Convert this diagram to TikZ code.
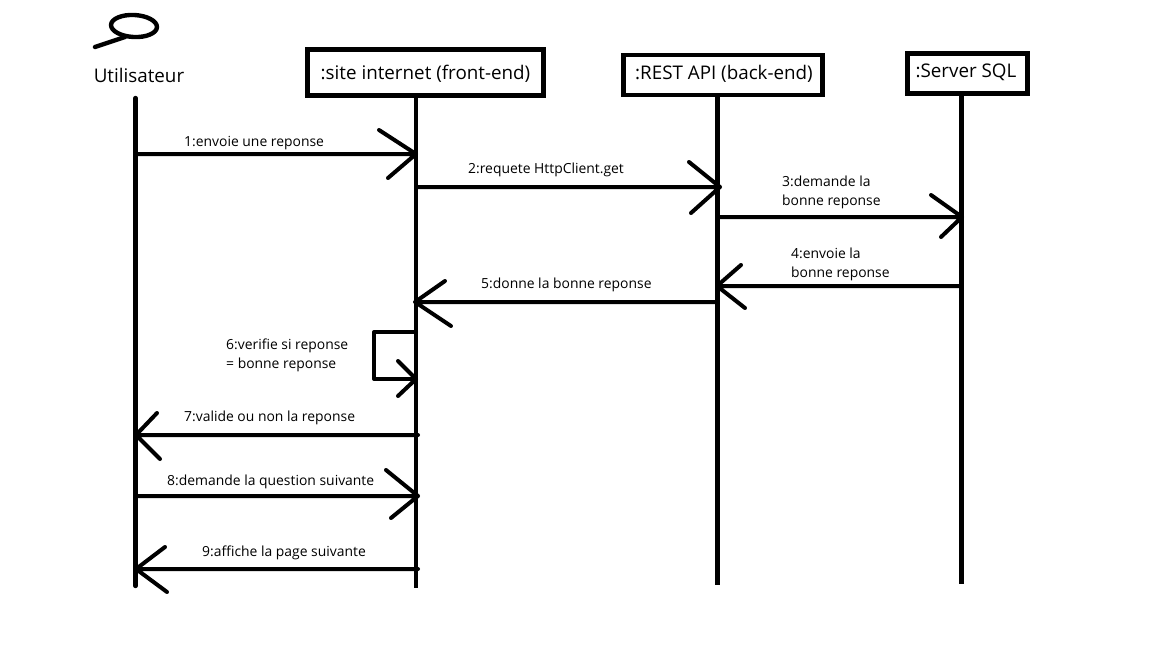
\documentclass[tikz,border=0pt]{standalone}
\usepackage{fontspec}
\setmainfont{Open Sans}
\tikzset{
  x=1pt,y=-1pt,
  actorbox/.style={draw,line width=4.6pt,inner sep=0pt,anchor=center},
  actorname/.style={font=\fontsize{18.8}{22}\selectfont,inner sep=0pt},
  lifeline/.style={line width=4.4pt},
  msgline/.style={line width=4pt,line cap=round,line join=round},
  msglabel/.style={font=\fontsize{13.9}{19.5}\selectfont,align=left,inner sep=0pt},
}
\begin{document}
\begin{tikzpicture}
\useasboundingbox[fill=white] (0,0) rectangle (1152,648);

% the boxes
\node[actorbox,minimum width=236,minimum height=46] (site) at (425.3,72.3) {};
\node[actorbox,minimum width=199.5,minimum height=40] (rest) at (723,75) {};
\node[actorbox,minimum width=120.5,minimum height=40.5] (sql) at (967.5,73.5) {};
\node[actorname] (sitetext) at (425.5,74) {:site internet (front-end)};
\node[actorname] (resttext) at (724,74) {:REST API (back-end)};
\node[actorname] (sqltext) at (966,72.5) {:Server SQL};
\node[actorname] (user) at (139,75.5) {Utilisateur};

% the magnifier above the user
\draw[msgline,line width=4.4pt,rotate around={-3:(134,26)}] (134,26) ellipse (23 and 11);
\draw[msgline,line width=4.4pt] (125,37) -- (95,47);

% lifelines
\coordinate (userTop) at (135.5,98);
\coordinate (userEnd) at (135.5,586);
\coordinate (siteEnd) at (416,588);
\coordinate (restEnd) at (717.5,585);
\coordinate (sqlEnd) at (961.5,584);
\draw[lifeline,line cap=round] (userTop) -- (userEnd);
\draw[lifeline] (site.south -| siteEnd) -- (siteEnd);
\draw[lifeline] (rest.south -| restEnd) -- (restEnd);
\draw[lifeline] (sql.south -| sqlEnd) -- (sqlEnd);

% messages
\coordinate (m1a) at (135,154);   \coordinate (m1b) at (416,154);
\coordinate (m2a) at (416,187);   \coordinate (m2b) at (720,187);
\coordinate (m3a) at (717,217);   \coordinate (m3b) at (962,217);
\coordinate (m4a) at (961,286);   \coordinate (m4b) at (717,286);
\coordinate (m5a) at (717,302);   \coordinate (m5b) at (415,302);
\coordinate (m7a) at (418,435);   \coordinate (m7b) at (136,435);
\coordinate (m8a) at (135,496);   \coordinate (m8b) at (418,496);
\coordinate (m9a) at (418,569);   \coordinate (m9b) at (136,569);

% line, then the two strokes of the head
\foreach \a/\b/\ux/\uy/\lx/\ly in {
  m1a/m1b/379/130/388/178, m2a/m2b/689/162/691/213, m3a/m3b/931/195/941/237,
  m4a/m4b/741/265/745/308, m5a/m5b/445/281/451/326, m7a/m7b/157/413/160/459,
  m8a/m8b/386/470/391/518, m9a/m9b/165/547/167/592}
  \draw[msgline] (\a) -- (\b) (\ux,\uy) -- (\b) -- (\lx,\ly);

% self message
\coordinate (selfa) at (416,332);
\coordinate (selfb) at (416,379);
\draw[msgline] (selfa) -- (374,332) -- (374,379) -- (selfb);
\draw[msgline] (398,361) -- (selfb) -- (398,396);

% labels
\node[msglabel,anchor=west] (l1) at (184,143) {1:envoie une reponse};
\node[msglabel,anchor=west] (l2) at (468,170) {2:requete HttpClient.get};
\node[msglabel,anchor=west] (l3) at (782,192.5) {3:demande la\\bonne reponse};
\node[msglabel,anchor=west] (l4) at (791,264.5) {4:envoie la\\bonne reponse};
\node[msglabel,anchor=west] (l5) at (481,285) {5:donne la bonne reponse};
\node[msglabel,anchor=west] (l6) at (226,355.5) {6:verifie si reponse\\= bonne reponse};
\node[msglabel,anchor=west] (l7) at (184,418) {7:valide ou non la reponse};
\node[msglabel,anchor=west] (l8) at (167,482) {8:demande la question suivante};
\node[msglabel,anchor=west] (l9) at (202,553) {9:affiche la page suivante};
\end{tikzpicture}
\end{document}
